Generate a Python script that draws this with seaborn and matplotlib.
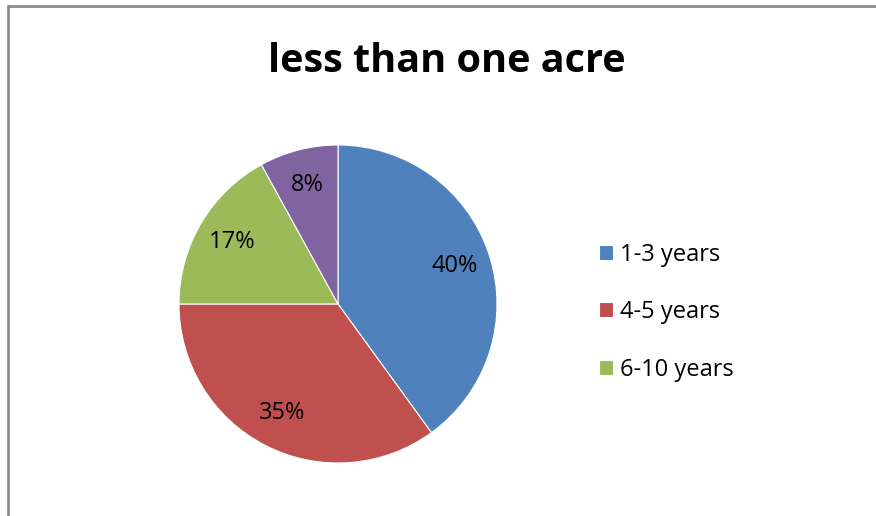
import matplotlib
matplotlib.use('Agg')
import matplotlib.pyplot as plt
from matplotlib.lines import Line2D
import seaborn as sns

# data
categories = ['1-3 years', '4-5 years', '6-10 years', 'above 10 years']
shares = [40, 35, 17, 8]
legend_labels = ['1-3 years', '4-5 years', '6-10 years']
title = 'less than one acre'

sns.set_theme(style='white')
plt.rcParams['font.family'] = ['Open Sans', 'DejaVu Sans']
plt.rcParams['text.color'] = 'black'
colors = sns.color_palette(['#4F81BD', '#C0504D', '#9BBB59', '#8064A2'])

fig = plt.figure(figsize=(8.76, 5.16), dpi=100)
fig.patch.set_facecolor('white')

# pie axes: centre (338, 304) px, radius 159 px
W, H = 876, 516
ax = fig.add_axes([179 / W, (H - 304 - 159) / H, 318 / W, 318 / H])
wedges, texts, autotexts = ax.pie(
    shares, colors=colors, startangle=90, counterclock=False,
    autopct='%1.0f%%', pctdistance=0.77,
    wedgeprops=dict(edgecolor='white', linewidth=0.8),
    textprops=dict(fontsize=17, color='black'))
ax.set_xlim(-1, 1)
ax.set_ylim(-1, 1)
ax.set_aspect('equal')

fig.text(447 / W, 1 - 61 / H, title, ha='center', va='center',
         fontsize=28.5, fontweight='bold', color='black')

fig.legend(wedges[:3], legend_labels, loc='upper left',
           bbox_to_anchor=(599 / W, 1 - 243 / H), frameon=False,
           borderpad=0, borderaxespad=0,
           fontsize=17, handlelength=0.6, handleheight=0.6,
           handletextpad=0.3, labelspacing=1.41)

# chart area border (left and top visible)
border = dict(color='#8c8c8c', linewidth=2, transform=fig.transFigure)
fig.add_artist(Line2D([7.5 / W, 7.5 / W], [0, 1 - 5.5 / H], **border))
fig.add_artist(Line2D([7.5 / W, 1], [1 - 5.5 / H, 1 - 5.5 / H], **border))

fig.savefig('out.png', dpi=100)
